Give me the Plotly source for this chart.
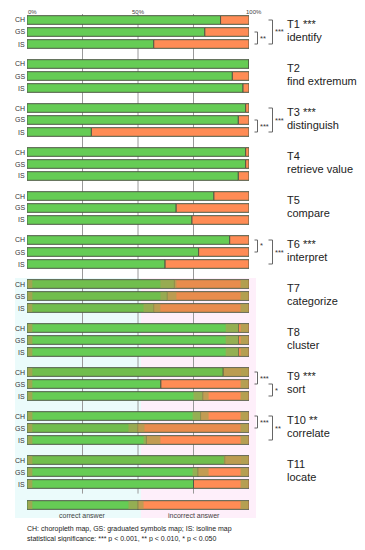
import plotly.graph_objects as go

tasks = ["T1", "T2", "T3", "T4", "T5", "T6", "T7", "T8", "T9", "T10", "T11"]
task_names = ["identify", "find extremum", "distinguish", "retrieve value", "compare",
              "interpret", "categorize", "cluster", "sort", "correlate", "locate"]
task_sig = ["***", "", "***", "", "", "***", "", "", "***", "**", ""]
maps = ["CH", "GS", "IS"]

# percent of correct answers per task for CH, GS, IS
correct_CH = [87.2, 100.0, 98.5, 98.5, 84.2, 91.3, 66.4, 95.3, 88.4, 78.2, 89.1]
correct_GS = [80.1, 92.5, 95.2, 98.5, 67.2, 77.3, 63.2, 95.3, 60.3, 49.9, 77.0]
correct_IS = [57.1, 97.3, 29.0, 95.2, 74.3, 62.2, 57.1, 95.3, 79.2, 53.8, 75.0]

# pairwise significance brackets: (task index, row from, row to, label, level)
brackets = [
    (0, 1, 2, "**", 0), (0, 0, 2, "***", 1),
    (2, 1, 2, "***", 0), (2, 0, 2, "***", 1),
    (5, 0, 1, "*", 0), (5, 0, 2, "***", 1),
    (8, 0, 1, "***", 0), (8, 1, 2, "*", 1),
    (9, 0, 1, "***", 0), (9, 0, 2, "**", 1),
]

legend_correct = 50.0
tick_vals = [0, 50, 100]
tick_text = ["0%", "50%", "100%"]

# blurred (olive) bands of the scanned lower part: (task, row, from %, to %)
blur_bands = [
    (6, 0, 60.1, 67.3), (6, 1, 60.1, 67.3), (6, 2, 52.5, 60.1),
    (7, 0, 89.5, 95.3), (7, 1, 89.5, 95.3), (7, 2, 89.5, 95.3),
    (8, 0, 88.6, 96.2), (8, 2, 75.0, 81.8),
    (9, 0, 74.6, 81.8), (9, 1, 45.7, 52.9), (9, 2, 52.5, 60.1),
    (10, 0, 88.6, 96.2), (10, 1, 74.6, 81.8),
]
muted_rows = [(6, 0), (6, 1), (6, 2), (8, 0), (9, 1), (10, 0)]

GREEN = "#66cc55"
ORANGE = "#ff8c55"
OLIVE = "rgba(168,162,82,0.85)"
OUTLINE = "#4f5a45"
GROUP_STEP = 44 / 12.0
FONT = "Liberation Sans"

# page-pixel helpers (page has an 8px body margin; plot area x 27..249, y 14..518 on the page)
def xp(px):
    return (px - 27) / 222.0

def yp(py):
    return 1 - (py - 14) / 504.0

def X(v):
    return 27 + 2.22 * v

def Y(pos):
    return 20 + 12 * pos

def row_pos(g, r):
    return g * GROUP_STEP + r

ys, xs = [], []
for g in range(len(tasks)):
    for r, vals in enumerate([correct_CH, correct_GS, correct_IS]):
        ys.append(row_pos(g, r))
        xs.append(vals[g])
legend_y = row_pos(len(tasks) - 1, 2) + 21 / 12.0

fig = go.Figure()
fig.add_trace(go.Bar(y=ys + [legend_y], x=xs + [legend_correct], base=0, orientation="h",
                     width=0.72, marker=dict(color=GREEN, line=dict(color=OUTLINE, width=1)),
                     showlegend=False, hoverinfo="skip"))
fig.add_trace(go.Bar(y=ys + [legend_y], x=[100 - v for v in xs] + [100 - legend_correct],
                     base=xs + [legend_correct], orientation="h",
                     width=0.72, marker=dict(color=ORANGE, line=dict(color=OUTLINE, width=1)),
                     showlegend=False, hoverinfo="skip"))

shapes = []
tint_top = Y(row_pos(6, 0)) - 6
tint_bot = 518
shapes.append(dict(type="rect", xref="paper", yref="paper", x0=xp(15), x1=xp(141),
                   y0=yp(tint_bot), y1=yp(tint_top),
                   fillcolor="rgba(205,245,245,0.4)", line=dict(width=0), layer="below"))
shapes.append(dict(type="rect", xref="paper", yref="paper", x0=xp(141), x1=xp(256),
                   y0=yp(tint_bot), y1=yp(tint_top),
                   fillcolor="rgba(252,215,242,0.4)", line=dict(width=0), layer="below"))
for gx in [25, 50, 75]:
    shapes.append(dict(type="line", xref="x", yref="y", x0=gx, x1=gx, y0=-0.5,
                       y1=row_pos(len(tasks) - 1, 2) + 0.8,
                       line=dict(color="#9a9a9a", width=1), layer="below"))

# olive blur bands and edge strips of the lower part
lower_rows = [(g, r) for g in range(6, len(tasks)) for r in range(3)]
for g, r in muted_rows:
    y = row_pos(g, r)
    shapes.append(dict(type="rect", xref="x", yref="y", x0=0, x1=100, y0=y - 0.33, y1=y + 0.33,
                       fillcolor="rgba(150,140,50,0.22)", line=dict(width=0), layer="above"))
for y in [row_pos(g, r) for g, r in lower_rows] + [legend_y]:
    for a, b in [(0.3, 2.4), (96.2, 99.7)]:
        shapes.append(dict(type="rect", xref="x", yref="y", x0=a, x1=b, y0=y - 0.33, y1=y + 0.33,
                           fillcolor=OLIVE, line=dict(width=0), layer="above"))
for g, r, a, b in blur_bands + [(None, None, 45.7, 52.5)]:
    y = legend_y if g is None else row_pos(g, r)
    shapes.append(dict(type="rect", xref="x", yref="y", x0=a, x1=b, y0=y - 0.33, y1=y + 0.33,
                       fillcolor="rgba(168,162,82,0.7)", line=dict(width=0), layer="above"))

annotations = []
for v, t in zip(tick_vals, tick_text):
    px = X(v) if v == 0 else (X(v) if v == 50 else X(v) - 4)
    annotations.append(dict(x=xp(px), y=yp(8.3), xref="paper", yref="paper", text=t,
                            showarrow=False, xanchor="center" if v == 50 else "left",
                            yanchor="top", borderpad=0, font=dict(size=6, color="#444")))
for g in range(len(tasks)):
    for r, m in enumerate(maps):
        annotations.append(dict(x=xp(25.5), y=yp(Y(row_pos(g, r))), xref="paper", yref="paper",
                                text=m, showarrow=False, xanchor="right", yanchor="middle",
                                borderpad=0, font=dict(size=7, color="#333")))
    label = tasks[g] + (" " + task_sig[g] if task_sig[g] else "")
    annotations.append(dict(x=xp(286), y=yp(Y(row_pos(g, 0)) + 4.3), xref="paper", yref="paper",
                            text=label, showarrow=False, xanchor="left", yanchor="middle",
                            borderpad=0, font=dict(size=11, color="#222")))
    annotations.append(dict(x=xp(286), y=yp(Y(row_pos(g, 0)) + 17), xref="paper", yref="paper",
                            text=task_names[g], showarrow=False, xanchor="left", yanchor="middle",
                            borderpad=0, font=dict(size=11, color="#222")))

for g, r0, r1, lab, lev in brackets:
    xv = 257.5 if lev == 0 else 272.5
    xt = xv - 3 if lev == 0 else xv - 4
    y0 = yp(Y(row_pos(g, r0)))
    y1 = yp(Y(row_pos(g, r1)))
    shapes.append(dict(type="path", xref="paper", yref="paper",
                       path=f"M {xp(xt)},{y0} L {xp(xv)},{y0} L {xp(xv)},{y1} L {xp(xt)},{y1}",
                       line=dict(color="#666", width=1)))
    annotations.append(dict(x=xp(xv + 0.5), y=(y0 + y1) / 2, xref="paper", yref="paper", text=lab,
                            showarrow=False, xanchor="left", yanchor="middle",
                            font=dict(size=7.5, color="#333")))

annotations.append(dict(x=xp(X(25)), y=yp(Y(legend_y) + 10), xref="paper", yref="paper",
                        text="correct answer", showarrow=False, xanchor="center", yanchor="middle",
                        font=dict(size=7, color="#444")))
annotations.append(dict(x=xp(X(75)), y=yp(Y(legend_y) + 10), xref="paper", yref="paper",
                        text="incorrect answer", showarrow=False, xanchor="center", yanchor="middle",
                        font=dict(size=7, color="#444")))
annotations.append(dict(x=xp(26), y=yp(528.5), xref="paper", yref="paper",
                        text="CH: choropleth map, GS: graduated symbols map; IS: isoline map",
                        showarrow=False, xanchor="left", yanchor="middle", borderpad=0,
                        font=dict(size=7, color="#222")))
annotations.append(dict(x=xp(26), y=yp(538.5), xref="paper", yref="paper",
                        text="statistical significance: *** p < 0.001, ** p < 0.010, * p < 0.050",
                        showarrow=False, xanchor="left", yanchor="middle", borderpad=0,
                        font=dict(size=7, color="#222")))

fig.update_layout(
    width=349, height=534,
    margin=dict(l=19, r=108, t=6, b=24),
    plot_bgcolor="rgba(0,0,0,0)", paper_bgcolor="white",
    barmode="overlay",
    font=dict(family=FONT),
    xaxis=dict(range=[0, 100], showgrid=False, zeroline=False, showticklabels=False, fixedrange=True),
    yaxis=dict(range=[41.5, -0.5], showgrid=False, zeroline=False, showticklabels=False, fixedrange=True),
    shapes=shapes, annotations=annotations,
)
fig.write_html("out.html")
